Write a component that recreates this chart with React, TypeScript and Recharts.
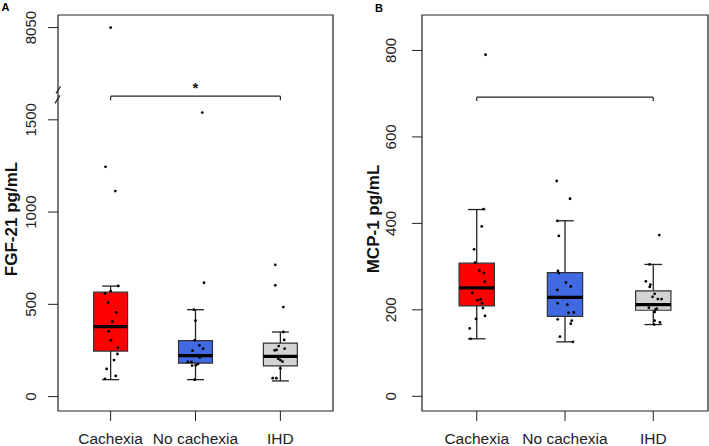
import React from 'react';
import { ComposedChart, XAxis, YAxis, Scatter, ReferenceArea, ReferenceLine, ReferenceDot } from 'recharts';

const categories = ['Cachexia', 'No cachexia', 'IHD'];
const boxColors = ['#FF0000', '#4169E1', '#D3D3D3'];

// Panel A: FGF-21 (pg/mL); the axis is broken above 1700
const fgfLow = [92, 92, 85];
const fgfQ1 = [247, 181, 166];
const fgfMedian = [379, 222, 218];
const fgfQ3 = [566, 303, 290];
const fgfHigh = [599, 471, 350];
const fgfValues = [
  [8050, 1245, 1114, 600, 572, 559, 510, 456, 406, 354, 305, 265, 231, 198, 150, 112, 96],
  [1539, 617, 471, 411, 305, 278, 260, 249, 213, 188, 188, 177, 170, 168, 92],
  [714, 603, 485, 350, 307, 274, 260, 251, 253, 198, 205, 190, 153, 100, 100],
];
const fgfJitter = [
  [0, -0.06, 0.055, 0.09, 0, -0.067, -0.03, 0.067, 0.02, -0.023, 0.004, 0.085, 0.08, 0.04, -0.047, 0.06, -0.067],
  [0.08, 0.1, -0.02, 0, -0.01, 0.045, 0.09, -0.035, 0.05, -0.09, -0.047, 0.03, 0.004, -0.04, -0.01],
  [-0.06, -0.06, 0.035, 0.035, 0.045, -0.02, 0.05, -0.067, -0.045, 0, -0.025, 0.025, 0, -0.09, -0.047],
];
const fgfTicks = [0, 500, 1000, 1500, 8050];

// Panel B: MCP-1 (pg/mL)
const mcpLow = [133, 126, 166];
const mcpQ1 = [209, 185, 199];
const mcpMedian = [251, 229, 212];
const mcpQ3 = [308, 286, 244];
const mcpHigh = [432, 406, 305];
const mcpValues = [
  [790, 433, 393, 340, 309, 291, 285, 265, 239, 222, 224, 215, 204, 186, 179, 157, 133],
  [498, 457, 406, 371, 290, 285, 263, 254, 246, 215, 212, 193, 194, 178, 175, 168, 138, 126],
  [373, 305, 266, 253, 258, 237, 230, 225, 225, 205, 201, 203, 195, 175, 171, 166],
];
const mcpJitter = [
  [0.1, 0.076, 0.057, -0.03, -0.02, 0.03, 0.08, 0.09, -0.05, 0.008, 0.045, 0.06, 0.07, 0.094, -0.008, -0.08, -0.07],
  [-0.094, 0.057, -0.086, -0.07, -0.08, -0.068, 0.01, 0.065, -0.086, -0.083, 0.027, 0.04, 0.1, -0.083, 0.076, 0.065, -0.057, 0.09],
  [0.068, -0.042, -0.084, -0.04, -0.033, 0.015, -0.008, 0.052, 0.094, -0.05, 0.026, 0.04, 0.015, 0.015, 0.075, 0.01],
];
const mcpTicks = [0, 200, 400, 600, 800];

const BREAK = 1700;
const fgfY = (v: number) => (v <= BREAK ? v : BREAK + (v - BREAK) * (300 / 6350));
const plainY = (v: number) => v;

const X_DOMAIN: [number, number] = [0.38, 3.62];
const FONT = "'Liberation Sans', Arial, Helvetica, sans-serif";
const INK = '#222';

type PanelProps = {
  width: number;
  axisWidth: number;
  right: number;
  low: number[];
  q1: number[];
  median: number[];
  q3: number[];
  high: number[];
  values: number[][];
  jitter: number[][];
  ticks: number[];
  yDomain: [number, number];
  toY: (v: number) => number;
  title: string;
  tickX: number;
  titleX: number;
  bracketY: number;
  bracketDrop: number;
  star?: boolean;
  breakAt?: number;
};

const BoxPanel = (p: PanelProps) => {
  const points = p.values.flatMap((vals, i) => vals.map((v, j) => ({ x: i + 1 + p.jitter[i][j], y: p.toY(v) })));
  const tickPos = p.ticks.map(p.toY);
  const yTick = (props: any) => {
    const idx = tickPos.indexOf(props.payload.value);
    const y = props.y;
    return <text x={p.tickX} y={y} transform={`rotate(-90 ${p.tickX} ${y})`} textAnchor="middle" fontSize={15} fill={INK}>
        {p.ticks[idx]}
      </text>;
  };
  const title = () => <text x={p.titleX} y={219} transform={`rotate(-90 ${p.titleX} 219)`} textAnchor="middle" fontSize={17} fontWeight="bold" fill="#111">
      {p.title}
    </text>;
  return <ComposedChart width={p.width} height={446} margin={{ top: 15, right: p.right, bottom: 0, left: 0 }}>
      <XAxis type="number" dataKey="x" domain={X_DOMAIN} ticks={[1, 2, 3]} interval={0} allowDataOverflow
        tickFormatter={(v: number) => categories[v - 1]} axisLine={false} tickSize={10} tickMargin={12}
        tickLine={{ stroke: INK }} tick={{ fill: INK, fontSize: 15.5 }} height={35} />
      <YAxis type="number" dataKey="y" domain={p.yDomain} ticks={tickPos} interval={0} allowDataOverflow
        axisLine={false} tickSize={10} tickLine={{ stroke: INK }} tick={yTick} width={p.axisWidth} label={title} />
      <ReferenceArea x1={X_DOMAIN[0]} x2={X_DOMAIN[1]} y1={p.yDomain[0]} y2={p.yDomain[1]} fill="none" stroke={INK} strokeWidth={1.2} ifOverflow="visible" />
      {categories.map((c, i) => <ReferenceArea key={`box-${c}`} x1={i + 1 - 0.2} x2={i + 1 + 0.2} y1={p.toY(p.q1[i])} y2={p.toY(p.q3[i])}
          fill={boxColors[i]} fillOpacity={1} stroke="#333" strokeWidth={1.2} />)}
      {categories.map((c, i) => <ReferenceLine key={`lw-${c}`} segment={[{ x: i + 1, y: p.toY(p.low[i]) }, { x: i + 1, y: p.toY(p.q1[i]) }]} stroke={INK} strokeWidth={1.3} />)}
      {categories.map((c, i) => <ReferenceLine key={`uw-${c}`} segment={[{ x: i + 1, y: p.toY(p.q3[i]) }, { x: i + 1, y: p.toY(p.high[i]) }]} stroke={INK} strokeWidth={1.3} />)}
      {categories.map((c, i) => <ReferenceLine key={`lc-${c}`} segment={[{ x: i + 1 - 0.1, y: p.toY(p.low[i]) }, { x: i + 1 + 0.1, y: p.toY(p.low[i]) }]} stroke={INK} strokeWidth={1.3} />)}
      {categories.map((c, i) => <ReferenceLine key={`uc-${c}`} segment={[{ x: i + 1 - 0.1, y: p.toY(p.high[i]) }, { x: i + 1 + 0.1, y: p.toY(p.high[i]) }]} stroke={INK} strokeWidth={1.3} />)}
      {categories.map((c, i) => <ReferenceLine key={`md-${c}`} segment={[{ x: i + 1 - 0.2, y: p.toY(p.median[i]) }, { x: i + 1 + 0.2, y: p.toY(p.median[i]) }]} stroke="#000" strokeWidth={3.2} />)}
      <ReferenceLine segment={[{ x: 1, y: p.bracketY }, { x: 3, y: p.bracketY }]} stroke={INK} strokeWidth={1.2} />
      <ReferenceLine segment={[{ x: 1, y: p.bracketY }, { x: 1, y: p.bracketY - p.bracketDrop }]} stroke={INK} strokeWidth={1.2} />
      <ReferenceLine segment={[{ x: 3, y: p.bracketY }, { x: 3, y: p.bracketY - p.bracketDrop }]} stroke={INK} strokeWidth={1.2} />
      {p.star && <ReferenceDot x={2} y={p.bracketY} ifOverflow="visible" shape={(s: any) => <text x={s.cx} y={s.cy - 3} textAnchor="middle" fontSize={15} fontWeight="bold" fill="#111">*</text>} />}
      {p.breakAt !== undefined && <ReferenceDot x={X_DOMAIN[0]} y={p.toY(p.breakAt)} ifOverflow="visible" shape={(s: any) => <g stroke={INK} strokeWidth={1.2}>
            <line x1={s.cx - 2} x2={s.cx + 2.5} y1={s.cy - 1} y2={s.cy - 8} />
            <line x1={s.cx - 3} x2={s.cx + 2} y1={s.cy + 9} y2={s.cy + 1} />
          </g>} />}
      <Scatter data={points} dataKey="y" fill="#000" isAnimationActive={false}
        shape={(s: any) => <circle cx={s.cx} cy={s.cy} r={1.4} fill="#000" />} />
    </ComposedChart>;
};

export default function App() {
  return <div style={{ position: 'absolute', left: 0, top: 0, width: 709, height: 446, background: '#fff', fontFamily: FONT }}>
      <div style={{ position: 'absolute', left: 1.5, top: 1.5, fontSize: 11, fontWeight: 'bold', lineHeight: 1 }}>A</div>
      <div style={{ position: 'absolute', left: 375, top: 2.5, fontSize: 11, fontWeight: 'bold', lineHeight: 1 }}>B</div>
      <div style={{ position: 'absolute', left: 0, top: 0 }}>
        <BoxPanel width={354} axisWidth={58} right={21} low={fgfLow} q1={fgfQ1} median={fgfMedian} q3={fgfQ3} high={fgfHigh}
          values={fgfValues} jitter={fgfJitter} ticks={fgfTicks} yDomain={[-78, 2068]} toY={fgfY} title="FGF-21 pg/mL"
          tickX={36.5} titleX={17} bracketY={1628} bracketDrop={22} star breakAt={1638} />
      </div>
      <div style={{ position: 'absolute', left: 354, top: 0 }}>
        <BoxPanel width={355} axisWidth={68} right={1} low={mcpLow} q1={mcpQ1} median={mcpMedian} q3={mcpQ3} high={mcpHigh}
          values={mcpValues} jitter={mcpJitter} ticks={mcpTicks} yDomain={[-34, 882]} toY={plainY} title="MCP-1 pg/mL"
          tickX={42.5} titleX={25} bracketY={692} bracketDrop={9} />
      </div>
    </div>;
}
